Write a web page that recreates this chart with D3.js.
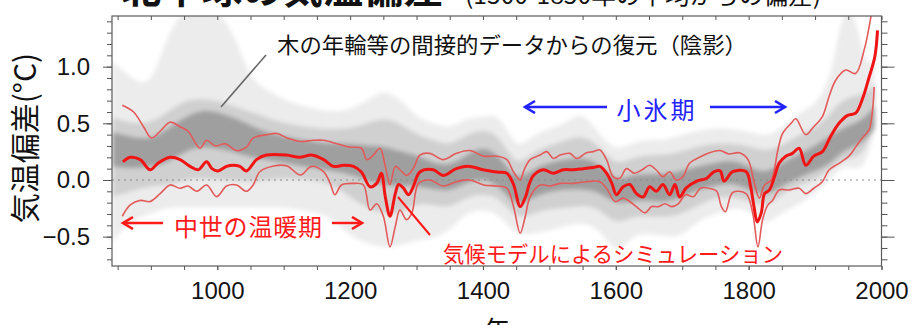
<!DOCTYPE html>
<html>
<head>
<meta charset="utf-8">
<script src="https://cdn.jsdelivr.net/npm/d3@7"></script>
<style>
  body { margin: 0; background: #fff; }
  svg { display: block; }
</style>
</head>
<body>
<svg id="chart" width="916" height="325"></svg>
<script>
// ---- data ----
// model simulation (red): [year, anomaly]
const simMean = [[858,0.16],[869,0.20],[884,0.18],[899,0.09],[911,0.15],[929,0.20],[944,0.18],[959,0.12],[971,0.09],[984,0.16],[992,0.10],[1001,0.08],[1014,0.12],[1024,0.13],[1034,0.12],[1044,0.08],[1059,0.18],[1074,0.22],[1104,0.22],[1124,0.20],[1142,0.22],[1160,0.18],[1175,0.12],[1190,0.13],[1205,0.12],[1217,0.07],[1230,-0.06],[1240,-0.03],[1247,0.06],[1253,-0.15],[1260,-0.32],[1268,-0.12],[1273,-0.04],[1280,-0.07],[1288,-0.13],[1295,-0.06],[1305,0.07],[1325,0.09],[1340,0.04],[1360,0.10],[1380,0.12],[1400,0.09],[1421,0.07],[1436,0.06],[1446,-0.04],[1456,-0.235],[1464,-0.15],[1470,-0.03],[1476,0.04],[1491,0.09],[1506,0.06],[1521,0.09],[1536,0.09],[1551,0.10],[1566,0.11],[1576,0.12],[1586,0.06],[1594,-0.03],[1601,-0.13],[1611,-0.06],[1621,-0.04],[1631,-0.12],[1641,-0.15],[1651,-0.06],[1661,-0.10],[1671,-0.04],[1681,-0.13],[1689,-0.04],[1696,-0.15],[1706,-0.07],[1722,-0.01],[1737,0.015],[1747,0.07],[1757,0.08],[1763,-0.01],[1776,0.073],[1796,0.075],[1803,-0.06],[1808,-0.235],[1813,-0.37],[1819,-0.29],[1824,-0.12],[1831,-0.09],[1839,0.03],[1846,0.15],[1856,0.21],[1866,0.235],[1876,0.28],[1886,0.13],[1898,0.21],[1911,0.25],[1923,0.38],[1936,0.50],[1949,0.57],[1961,0.59],[1971,0.71],[1981,0.90],[1990,1.09],[1994,1.32]];

const simUpper = [[857,0.66],[874,0.60],[889,0.47],[901,0.37],[914,0.43],[929,0.51],[944,0.47],[956,0.43],[974,0.28],[984,0.35],[997,0.30],[1012,0.32],[1029,0.26],[1044,0.29],[1054,0.37],[1075,0.40],[1090,0.41],[1105,0.37],[1125,0.34],[1145,0.35],[1160,0.35],[1180,0.32],[1200,0.29],[1217,0.28],[1225,0.18],[1235,0.22],[1245,0.28],[1253,0.12],[1260,-0.04],[1268,0.12],[1275,0.09],[1285,0.04],[1295,0.10],[1305,0.22],[1320,0.235],[1340,0.18],[1360,0.235],[1380,0.26],[1401,0.21],[1421,0.21],[1436,0.18],[1446,0.07],[1456,0.0],[1462,0.09],[1471,0.18],[1486,0.22],[1496,0.25],[1506,0.19],[1516,0.22],[1531,0.235],[1541,0.19],[1556,0.24],[1566,0.25],[1576,0.265],[1586,0.18],[1596,0.03],[1606,0.015],[1616,0.10],[1628,0.06],[1639,0.088],[1651,0.13],[1661,0.088],[1671,0.03],[1681,0.073],[1691,0.0],[1701,0.03],[1711,0.147],[1726,0.20],[1741,0.24],[1757,0.26],[1770,0.23],[1786,0.24],[1799,0.18],[1808,-0.015],[1816,-0.16],[1824,-0.044],[1834,0.0],[1844,0.265],[1851,0.41],[1864,0.50],[1871,0.54],[1886,0.40],[1898,0.47],[1911,0.56],[1921,0.735],[1931,0.88],[1946,0.97],[1961,0.94],[1974,1.15],[1984,1.44],[1988,1.6]];

const simLower = [[857,-0.32],[869,-0.22],[884,-0.18],[899,-0.19],[914,-0.12],[929,-0.044],[944,-0.073],[956,-0.053],[969,-0.10],[984,-0.044],[999,-0.147],[1014,-0.053],[1029,-0.044],[1044,-0.10],[1054,-0.044],[1064,0.073],[1085,0.124],[1105,0.124],[1125,0.044],[1142,0.12],[1160,0.073],[1170,-0.03],[1177,-0.13],[1187,-0.044],[1205,-0.03],[1220,-0.044],[1230,-0.265],[1240,-0.21],[1250,-0.32],[1260,-0.59],[1268,-0.41],[1275,-0.265],[1285,-0.35],[1293,-0.29],[1303,-0.03],[1320,0.0],[1340,-0.053],[1360,-0.015],[1380,0.0],[1401,-0.044],[1421,-0.053],[1436,-0.073],[1446,-0.235],[1456,-0.47],[1463,-0.34],[1471,-0.15],[1486,-0.044],[1501,-0.053],[1516,-0.03],[1536,-0.03],[1556,-0.015],[1576,-0.015],[1586,-0.073],[1599,-0.19],[1611,-0.16],[1621,-0.19],[1631,-0.235],[1644,-0.29],[1654,-0.235],[1664,-0.235],[1674,-0.21],[1684,-0.235],[1694,-0.21],[1705,-0.13],[1717,-0.147],[1728,-0.07],[1745,-0.08],[1752,-0.1],[1759,-0.235],[1765,-0.28],[1776,-0.11],[1796,-0.12],[1806,-0.29],[1814,-0.59],[1821,-0.35],[1829,-0.22],[1836,-0.18],[1846,-0.088],[1861,-0.088],[1876,-0.073],[1886,-0.12],[1898,-0.073],[1911,-0.015],[1921,0.088],[1936,0.147],[1951,0.21],[1961,0.29],[1971,0.37],[1981,0.44],[1986,0.59],[1989,0.82]];

// proxy reconstructions (grey shading), rough envelopes
const shadeYears = [842,870,900,925,950,975,1000,1025,1050,1075,1100,1150,1175,1200,1225,1250,1275,1300,1325,1350,1375,1400,1425,1450,1475,1500,1525,1550,1575,1600,1625,1650,1675,1700,1725,1750,1775,1800,1825,1850,1875,1900,1925,1940,1960,1975,1990];
const outerHi = [1.05,0.9,0.8,1.3,1.5,1.5,1.5,1.3,0.88,0.8,0.7,0.62,0.6,0.62,0.7,0.8,0.72,0.55,0.5,0.45,0.55,0.55,0.6,0.25,0.4,0.45,0.5,0.62,0.4,0.25,0.33,0.36,0.35,0.4,0.44,0.46,0.45,0.43,0.38,0.45,0.6,0.65,0.9,1.5,1.5,1.0,1.05];
const outerLo = [-0.55,-0.35,-0.3,-0.24,-0.24,-0.24,-0.24,-0.24,-0.24,-0.24,-0.24,-0.28,-0.35,-0.5,-0.56,-0.6,-0.58,-0.53,-0.52,-0.45,-0.28,-0.26,-0.3,-0.5,-0.47,-0.45,-0.4,-0.38,-0.42,-0.68,-0.48,-0.47,-0.5,-0.5,-0.35,-0.3,-0.25,-0.25,-0.42,-0.28,-0.22,-0.12,0.02,0.12,0.1,0.1,0.45];
const midHi = [0.55,0.5,0.5,0.6,0.7,0.72,0.7,0.65,0.6,0.55,0.5,0.45,0.45,0.45,0.5,0.55,0.5,0.4,0.35,0.3,0.4,0.45,0.4,0.1,0.25,0.3,0.35,0.4,0.3,0.12,0.2,0.22,0.22,0.25,0.3,0.32,0.32,0.3,0.25,0.3,0.4,0.45,0.6,0.7,0.75,0.75,0.85];
const midLo = [-0.15,-0.1,-0.05,-0.05,0.0,0.02,0.0,0.0,-0.02,0.0,0.02,0.0,-0.05,-0.15,-0.25,-0.3,-0.3,-0.2,-0.22,-0.25,-0.15,-0.12,-0.15,-0.35,-0.3,-0.25,-0.25,-0.22,-0.25,-0.4,-0.32,-0.32,-0.33,-0.3,-0.22,-0.15,-0.15,-0.18,-0.25,-0.12,-0.05,0.0,0.1,0.18,0.2,0.25,0.5];
const coreHi = [0.42,0.38,0.35,0.45,0.55,0.62,0.6,0.55,0.48,0.42,0.38,0.33,0.32,0.32,0.3,0.3,0.25,0.22,0.15,0.12,0.22,0.3,0.22,-0.02,0.1,0.15,0.18,0.2,0.15,-0.02,0.05,0.05,0.05,0.08,0.12,0.15,0.18,0.12,0.05,0.15,0.22,0.3,0.4,0.45,0.5,0.55,0.65];
const coreLo = [0.12,0.1,0.12,0.15,0.25,0.3,0.28,0.25,0.2,0.18,0.15,0.1,0.08,0.05,0.0,-0.05,-0.05,-0.05,-0.08,-0.1,-0.02,0.02,-0.05,-0.25,-0.15,-0.1,-0.08,-0.08,-0.1,-0.22,-0.18,-0.18,-0.2,-0.15,-0.08,-0.05,-0.02,-0.08,-0.15,-0.05,0.02,0.08,0.15,0.25,0.3,0.35,0.45];

const xTicks = [1000, 1200, 1400, 1600, 1800, 2000];
const yTicks = [-0.5, 0.0, 0.5, 1.0];

// ---- layout ----
const svg = d3.select("#chart");
const plotL = 112, plotR = 881.5, plotT = 16, plotB = 266;

const x = d3.scaleLinear().domain([841.5, 2000]).range([plotL, plotR]);
const y = d3.scaleLinear().domain([-0.759, 1.447]).range([plotB, plotT]);

const defs = svg.append("defs");
defs.append("clipPath").attr("id", "plot")
  .append("rect").attr("x", plotL).attr("y", plotT)
  .attr("width", plotR - plotL).attr("height", plotB - plotT);
defs.append("filter").attr("id", "soft")
  .attr("x", "-5%").attr("y", "-20%").attr("width", "110%").attr("height", "140%")
  .append("feGaussianBlur").attr("stdDeviation", 2.2);

function arrowMarker(id, color) {
  defs.append("marker").attr("id", id)
    .attr("markerUnits", "userSpaceOnUse")
    .attr("markerWidth", 16).attr("markerHeight", 16)
    .attr("refX", 11).attr("refY", 7)
    .attr("orient", "auto")
    .append("path")
    .attr("d", "M1,1 L11,7 L1,13")
    .attr("fill", "none").attr("stroke", color).attr("stroke-width", 2.6);
}
arrowMarker("arBlue", "#2323ff");
arrowMarker("arRed", "#ff1a1a");

// ---- grey shading ----
const shade = svg.append("g").attr("clip-path", "url(#plot)")
  .append("g").attr("filter", "url(#soft)");

const bands = [
  { hi: outerHi, lo: outerLo, op: 0.075 },
  { hi: midHi, lo: midLo, op: 0.12 },
  { hi: coreHi, lo: coreLo, op: 0.24 }
];
const band = d3.area()
  .x(d => x(d[0])).y0(d => y(d[1])).y1(d => y(d[2]))
  .curve(d3.curveBasis);
bands.forEach(b => {
  shade.append("path")
    .datum(shadeYears.map((yr, i) => [yr, b.lo[i], b.hi[i]]))
    .attr("d", band)
    .attr("fill", "#000")
    .attr("fill-opacity", b.op);
});

// zero line
svg.append("line")
  .attr("x1", plotL).attr("x2", plotR)
  .attr("y1", y(0)).attr("y2", y(0))
  .attr("stroke", "#8a8a8a").attr("stroke-width", 1)
  .attr("stroke-dasharray", "2,4");

// ---- model lines ----
const line = d3.line().x(d => x(d[0])).y(d => y(d[1]))
  .curve(d3.curveCatmullRom.alpha(0.5));
const reds = svg.append("g").attr("clip-path", "url(#plot)").attr("fill", "none");
[simUpper, simLower].forEach(s => {
  reds.append("path").datum(s).attr("d", line)
    .attr("stroke", "#e35a5a").attr("stroke-width", 1.6);
});
reds.append("path").datum(simMean).attr("d", line)
  .attr("stroke", "#f01414").attr("stroke-width", 3);

// ---- axes ----
const tickFont = "'Liberation Sans', Arial, sans-serif";

svg.append("g").attr("transform", `translate(0,${plotB})`)
  .call(d3.axisBottom(x).tickValues(d3.range(850, 2001, 50)).tickSize(4).tickFormat(""))
  .call(g => g.select(".domain").remove())
  .call(g => g.selectAll("line").attr("stroke", "#555"));
svg.append("g").attr("transform", `translate(0,${plotB})`)
  .call(d3.axisBottom(x).tickValues(xTicks).tickSize(4).tickPadding(12).tickFormat(d3.format("d")))
  .call(g => g.select(".domain").remove())
  .call(g => g.selectAll("line").attr("stroke", "#555"))
  .call(g => g.selectAll("text").attr("font-family", tickFont).attr("font-size", 24).attr("fill", "#141414"));

svg.append("g").attr("transform", `translate(0,${plotT})`)
  .call(d3.axisBottom(x).tickValues(d3.range(850, 2001, 50)).tickSize(4).tickFormat(""))
  .call(g => g.select(".domain").remove())
  .call(g => g.selectAll("line").attr("stroke", "#555"));

const minorY = d3.range(-7, 15).map(v => v / 10);
svg.append("g").attr("transform", `translate(${plotL},0)`)
  .call(d3.axisLeft(y).tickValues(minorY).tickSize(5).tickFormat(""))
  .call(g => g.select(".domain").remove())
  .call(g => g.selectAll("line").attr("stroke", "#555"));
svg.append("g").attr("transform", `translate(${plotL},0)`)
  .call(d3.axisLeft(y).tickValues(yTicks).tickSize(9).tickPadding(13).tickFormat(d3.format(".1f")))
  .call(g => g.select(".domain").remove())
  .call(g => g.selectAll("line").attr("stroke", "#555"))
  .call(g => g.selectAll("text").attr("font-family", tickFont).attr("font-size", 24).attr("fill", "#141414"));

svg.append("g").attr("transform", `translate(${plotR},0)`)
  .call(d3.axisRight(y).tickValues(minorY).tickSize(6).tickFormat(""))
  .call(g => g.select(".domain").remove())
  .call(g => g.selectAll("line").attr("stroke", "#555"));
svg.append("g").attr("transform", `translate(${plotR},0)`)
  .call(d3.axisRight(y).tickValues(yTicks).tickSize(13).tickFormat(""))
  .call(g => g.select(".domain").remove())
  .call(g => g.selectAll("line").attr("stroke", "#555"));

svg.append("rect")
  .attr("x", plotL).attr("y", plotT)
  .attr("width", plotR - plotL).attr("height", plotB - plotT)
  .attr("fill", "none").attr("stroke", "#5a5a5a").attr("stroke-width", 1.2);

// ---- texts ----
const jp = "'Noto Sans CJK JP', 'Noto Sans', sans-serif";

// title: cut off at the top edge, as in the source image
svg.append("text").attr("x", 121).attr("y", 3)
  .attr("font-family", jp).attr("font-size", 38).attr("font-weight", "bold")
  .attr("textLength", 323).attr("lengthAdjust", "spacingAndGlyphs")
  .attr("fill", "#111").text("北半球の気温偏差");
svg.append("text").attr("x", 465).attr("y", 4)
  .attr("font-family", jp).attr("font-size", 24)
  .attr("textLength", 356).attr("lengthAdjust", "spacingAndGlyphs")
  .attr("fill", "#111").text("(1500-1850年の平均からの偏差)");

svg.append("text")
  .attr("transform", "translate(36,138) rotate(-90)")
  .attr("text-anchor", "middle")
  .attr("font-family", jp).attr("font-size", 30).attr("fill", "#111")
  .text("気温偏差(°C)");

svg.append("text").attr("x", 497).attr("y", 340)
  .attr("text-anchor", "middle")
  .attr("font-family", jp).attr("font-size", 26).attr("fill", "#111")
  .text("年");

// proxy label + leader
svg.append("text").attr("x", 277).attr("y", 53)
  .attr("font-family", jp).attr("font-size", 22).attr("fill", "#111")
  .attr("textLength", 470).attr("lengthAdjust", "spacingAndGlyphs")
  .text("木の年輪等の間接的データからの復元（陰影）");
svg.append("line").attr("x1", 266).attr("y1", 55).attr("x2", 221).attr("y2", 107)
  .attr("stroke", "#666").attr("stroke-width", 1.6);

// little ice age
svg.append("text").attr("x", 657).attr("y", 119)
  .attr("text-anchor", "middle")
  .attr("font-family", jp).attr("font-size", 24).attr("fill", "#2323ff")
  .attr("letter-spacing", 3).text("小氷期");
svg.append("line").attr("x1", 607).attr("y1", 107).attr("x2", 525).attr("y2", 107)
  .attr("stroke", "#2323ff").attr("stroke-width", 2.4).attr("marker-end", "url(#arBlue)");
svg.append("line").attr("x1", 710).attr("y1", 107).attr("x2", 785).attr("y2", 107)
  .attr("stroke", "#2323ff").attr("stroke-width", 2.4).attr("marker-end", "url(#arBlue)");

// medieval warm period
svg.append("text").attr("x", 174).attr("y", 236)
  .attr("font-family", jp).attr("font-size", 24).attr("fill", "#ff1a1a")
  .attr("textLength", 148).attr("lengthAdjust", "spacing")
  .text("中世の温暖期");
svg.append("line").attr("x1", 163).attr("y1", 223).attr("x2", 123).attr("y2", 223)
  .attr("stroke", "#ff1a1a").attr("stroke-width", 2.4).attr("marker-end", "url(#arRed)");
svg.append("line").attr("x1", 332).attr("y1", 223).attr("x2", 362).attr("y2", 223)
  .attr("stroke", "#ff1a1a").attr("stroke-width", 2.4).attr("marker-end", "url(#arRed)");

// model label + leader
svg.append("text").attr("x", 443).attr("y", 262)
  .attr("font-family", jp).attr("font-size", 22).attr("fill", "#ff1a1a")
  .attr("textLength", 340).attr("lengthAdjust", "spacingAndGlyphs")
  .text("気候モデルによるシミュレーション");
svg.append("line").attr("x1", 398).attr("y1", 197).attr("x2", 430).attr("y2", 235)
  .attr("stroke", "#ff1a1a").attr("stroke-width", 2);
</script>
</body>
</html>
